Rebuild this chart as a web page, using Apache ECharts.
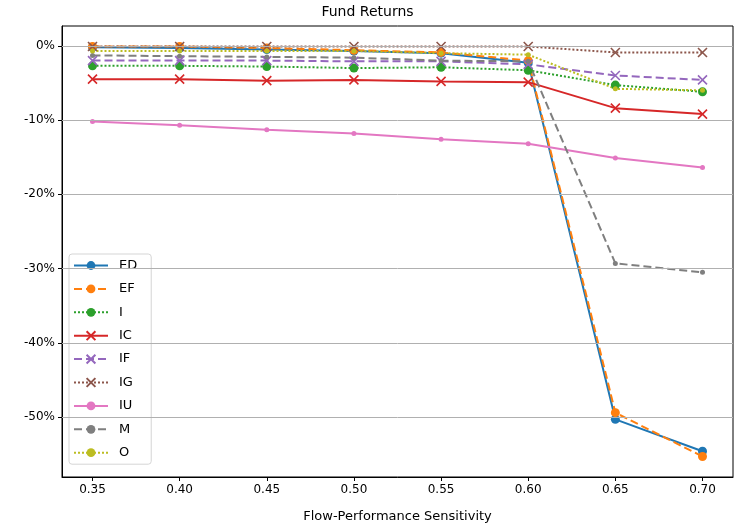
<!DOCTYPE html>
<html>
<head>
<meta charset="utf-8">
<script src="https://cdn.jsdelivr.net/npm/echarts@6/dist/echarts.min.js"></script>
<style>
  html, body { margin: 0; padding: 0; background: #fff; }
  #chart { width: 735px; height: 529px; }
</style>
</head>
<body>
<div id="chart"></div>
<script>
// sensitivities on the x axis
const sensitivity = [0.35, 0.40, 0.45, 0.50, 0.55, 0.60, 0.65, 0.70];
const yTicks = [0, -10, -20, -30, -40, -50];

// returns in percent
const ED = [-0.2, -0.3, -0.5, -0.7, -1.0, -2.3, -50.3, -54.6];
const EF = [-0.1, -0.1, -0.3, -0.6, -0.9, -2.0, -49.4, -55.3];
const I  = [-2.7, -2.7, -2.8, -3.0, -2.9, -3.3, -5.3, -6.2];
const IC = [-4.5, -4.5, -4.7, -4.6, -4.8, -4.9, -8.4, -9.2];
const IF = [-2.0, -2.0, -2.0, -2.1, -2.1, -2.5, -4.0, -4.6];
const IG = [-0.1, -0.1, -0.1, -0.1, -0.1, -0.1, -0.9, -0.9];
const IU = [-10.2, -10.7, -11.3, -11.8, -12.6, -13.2, -15.1, -16.4];
const M  = [-1.3, -1.4, -1.5, -1.6, -2.0, -2.1, -29.3, -30.5];
const O  = [-0.7, -0.7, -0.7, -0.7, -1.0, -1.2, -5.8, -6.0];

const X_MARK = 'path://M0,0L10,10M10,0L0,10';

const lines = [
  { name: 'ED', data: ED, color: '#1f77b4', type: 'solid', symbol: 'circle', size: 9 },
  { name: 'EF', data: EF, color: '#ff7f0e', type: 'dashed', symbol: 'circle', size: 9 },
  { name: 'I',  data: I,  color: '#2ca02c', type: 'dotted', symbol: 'circle', size: 9 },
  { name: 'IC', data: IC, color: '#d62728', type: 'solid', symbol: X_MARK, size: 9 },
  { name: 'IF', data: IF, color: '#9467bd', type: 'dashed', symbol: X_MARK, size: 9 },
  { name: 'IG', data: IG, color: '#8c564b', type: 'dotted', symbol: X_MARK, size: 9 },
  { name: 'IU', data: IU, color: '#e377c2', type: 'solid', symbol: 'circle', size: 5 },
  { name: 'M',  data: M,  color: '#7f7f7f', type: 'dashed', symbol: 'circle', size: 5 },
  { name: 'O',  data: O,  color: '#bcbd22', type: 'dotted', symbol: 'circle', size: 5 }
];

const font = 'DejaVu Sans';
const chart = echarts.init(document.getElementById('chart'));

const series = lines.map(l => ({
  name: l.name,
  type: 'line',
  data: l.data.map((v, i) => [sensitivity[i], v]),
  symbol: l.symbol,
  symbolSize: l.size,
  showSymbol: true,
  animation: false,
  lineStyle: { color: l.color, width: 2, type: l.type },
  itemStyle: {
    color: l.color,
    borderColor: l.color,
    borderWidth: l.symbol === X_MARK ? 1.6 : 0
  }
}));

// horizontal grid lines at the y ticks
series.push({
  type: 'line',
  data: [],
  silent: true,
  markLine: {
    silent: true,
    symbol: 'none',
    label: { show: false },
    lineStyle: { color: '#b0b0b0', width: 1, type: 'solid' },
    data: yTicks.map(v => ({ yAxis: v }))
  },
  z: 0
});

chart.setOption({
  animation: false,
  title: {
    text: 'Fund Returns',
    left: 'center',
    top: 0,
    textStyle: { fontFamily: font, fontSize: 14, fontWeight: 'normal', color: '#000' }
  },
  grid: {
    left: 62, right: 2, top: 26, bottom: 52,
    show: true, borderColor: '#000', borderWidth: 1
  },
  legend: {
    orient: 'vertical',
    left: 69,
    top: 254,
    itemWidth: 34,
    itemHeight: 11,
    itemGap: 10.4,
    padding: [5, 14, 5, 4],
    borderColor: '#d5d5d5',
    borderWidth: 1,
    borderRadius: 3,
    backgroundColor: 'rgba(255,255,255,0.85)',
    textStyle: { fontFamily: font, fontSize: 13, color: '#000', padding: [0, 0, 0, 6] },
    data: lines.map(l => l.name)
  },
  xAxis: {
    type: 'value',
    min: 0.3325,
    max: 0.7175,
    name: 'Flow-Performance Sensitivity',
    nameLocation: 'middle',
    nameGap: 33,
    nameTextStyle: { fontFamily: font, fontSize: 13, color: '#000' },
    axisLine: { show: true, onZero: false, lineStyle: { color: '#000' } },
    axisTick: { show: true, length: 4, customValues: sensitivity, lineStyle: { color: '#000' } },
    axisLabel: {
      customValues: sensitivity,
      fontFamily: font, fontSize: 12, color: '#000', margin: 7,
      formatter: v => v.toFixed(2)
    },
    splitLine: { show: false }
  },
  yAxis: {
    type: 'value',
    min: -58.06,
    max: 2.66,
    axisLine: { show: true, onZero: false, lineStyle: { color: '#000' } },
    axisTick: { show: true, length: 4, customValues: yTicks, lineStyle: { color: '#000' } },
    axisLabel: {
      customValues: yTicks,
      fontFamily: font, fontSize: 12, color: '#000', margin: 7,
      formatter: v => Math.round(v) + '%'
    },
    splitLine: { show: false }
  },
  series: series
});
</script>
</body>
</html>
